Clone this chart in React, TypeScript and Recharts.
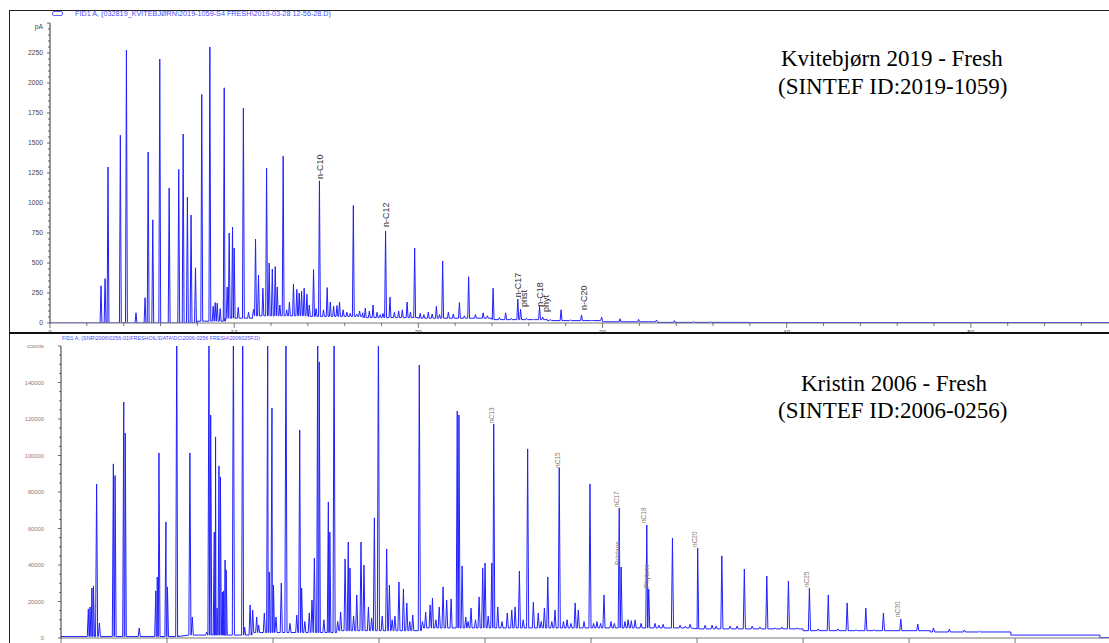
import React from "react";
import { LineChart, Line, XAxis, YAxis, ReferenceDot } from "recharts";

// Kvitebjørn 2019 - Fresh: retention time (min) and FID signal (pA) of each peak
const kvPeakTimes = [
  2.77, 2.99, 3.15, 3.82, 4.15, 4.67, 5.16, 5.33, 5.58, 5.96, 6.47, 6.99, 7.23, 7.46, 7.66, 7.9,
  8.24, 8.68, 8.86, 8.97, 9.08, 9.24, 9.46, 9.62, 9.73, 9.91, 10.0, 10.22, 10.5, 10.78, 11.05,
  11.16, 11.32, 11.56, 11.76, 11.9, 12.07, 12.23, 12.34, 12.48, 12.66, 12.85, 13.0, 13.22, 13.4,
  13.53, 13.66, 13.8, 13.95, 14.08, 14.31, 14.45, 14.63, 14.85, 15.05, 15.22, 15.4, 15.58, 15.72,
  15.92, 16.12, 16.3, 16.47, 16.65, 16.81, 16.98, 17.12, 17.34, 17.54, 17.76, 17.93, 18.08, 18.22,
  18.46, 18.7, 18.93, 19.13, 19.39, 19.57, 19.8, 20.1, 20.3, 20.54, 20.75, 20.98, 21.15, 21.32,
  21.63, 21.9, 22.23, 22.5, 22.73, 23.1, 23.52, 23.75, 24.06, 24.4, 24.74, 25.05, 25.4, 25.55,
  25.87, 26.25, 26.58, 26.75, 27.17, 27.75, 28.26, 28.86, 29.4, 29.95, 30.95, 31.96, 32.93, 33.9,
  34.95, 35.87,
];
const kvPeakHeights = [
  310, 370, 1300, 1565, 2275, 85, 210, 1425, 860, 2200, 1125, 1280, 1575, 1050, 900, 460,
  1905, 2300, 140, 170, 165, 120, 1960, 300, 750, 800, 625, 130, 1790, 90, 115,
  700, 400, 290, 1290, 500, 450, 470, 300, 150, 1390, 110, 175, 325, 280,
  250, 265, 290, 240, 150, 445, 120, 1185, 110, 295, 175, 140, 145, 175,
  110, 90, 80, 980, 75, 100, 85, 125, 100, 150, 90, 70, 80, 765,
  215, 90, 100, 110, 175, 90, 625, 80, 70, 90, 75, 140, 70, 517,
  90, 75, 170, 60, 385, 70, 85, 60, 290, 45, 85, 40, 200, 115,
  40, 30, 140, 50, 30, 110, 25, 67, 20, 50, 35, 30, 25, 20,
  12, 10,
];
const kvBaseTimes = [0, 8, 9.5, 11, 14, 17, 20, 24, 27, 30, 33, 38];
const kvBaseLevels = [0, 15, 40, 60, 55, 45, 40, 28, 20, 10, 5, 3];
const kvLabelNames = ["n-C10", "n-C12", "n-C17", "prist", "n-C18", "phyt", "n-C20"];
const kvLabelTimes = [14.63, 18.22, 25.4, 25.7, 26.58, 26.9, 28.97];
const kvLabelLevels = [1200, 800, 215, 133, 135, 92, 108];
const kvXTicks = [0, 2, 4, 6, 8, 10, 12, 14, 16, 18, 20, 22, 24, 26, 28, 30, 32, 34, 36, 38, 40, 42, 44, 46, 48, 50, 52, 54, 56];
const kvYLabels = [0, 250, 500, 750, 1000, 1250, 1500, 1750, 2000, 2250];

// Kristin 2006 - Fresh: retention time (min) and signal (counts); saturated peaks run off the top
const krPeakTimes = [
  1.29, 1.37, 1.46, 1.53, 1.68, 1.81, 2.47, 2.55, 2.96, 3.03, 3.69, 4.47, 4.54, 4.62, 4.95, 5.02,
  5.46, 6.08, 6.19, 6.87, 6.98, 7.06, 7.23, 7.29, 7.36, 7.45, 7.52, 7.61, 7.67, 7.74, 7.79, 8.13,
  8.57, 8.66, 8.92, 9.04, 9.23, 9.32, 9.59, 9.75, 9.82, 9.95, 10.02, 10.14, 10.39, 10.61, 10.8,
  11.12, 11.26, 11.35, 11.5, 11.71, 11.84, 11.95, 12.11, 12.18, 12.4, 12.61, 12.68, 12.88, 13.05,
  13.19, 13.4, 13.55, 13.63, 13.8, 13.95, 14.15, 14.29, 14.5, 14.65, 14.78, 14.97, 15.15, 15.36,
  15.49, 15.62, 15.75, 15.94, 16.15, 16.31, 16.45, 16.59, 16.9, 17.05, 17.2, 17.41, 17.52, 17.68,
  17.84, 18.02, 18.19, 18.4, 18.69, 18.77, 18.92, 19.09, 19.2, 19.34, 19.55, 19.72, 19.89, 20.0,
  20.15, 20.32, 20.41, 20.6, 20.8, 21.05, 21.26, 21.42, 21.62, 21.8, 22.01, 22.28, 22.51, 22.65,
  22.8, 22.96, 23.15, 23.3, 23.5, 23.7, 23.87, 24.05, 24.25, 24.4, 24.67, 24.95, 25.12, 25.28,
  25.45, 25.61, 25.94, 26.1, 26.33, 26.42, 26.6, 26.75, 26.9, 27.08, 27.36, 27.63, 27.72, 28.02,
  28.2, 28.4, 28.84, 29.2, 29.45, 29.67, 30.03, 30.38, 30.71, 30.9, 31.17, 31.56, 31.89, 32.23,
  32.6, 32.97, 33.29, 33.68, 34.0, 34.31, 34.72, 35.3, 35.71, 36.19, 36.65, 37.08, 37.5, 37.96,
  38.35, 38.79, 39.2, 39.61, 40.41, 41.15, 41.9, 42.61, 43.32,
];
const krPeakHeights = [
  15900, 17000, 27400, 28500, 84400, 8200, 95400, 89000, 129300, 112300, 5500, 25800, 33400, 101400, 63600, 28000,
  175000, 101400, 11500, 3300, 175000, 122200, 58000, 110200, 16400, 94300, 88300, 25200, 25800, 42700, 37300, 175000,
  175000, 6000, 18100, 15300, 11500, 7100, 13700, 175000, 36200, 126000, 29000, 11500, 30100, 175000, 8000,
  12600, 114000, 27400, 9000, 13700, 20800, 43800, 175000, 151300, 10000, 74500, 58000, 175000, 9000,
  14200, 43300, 52600, 38400, 12000, 23600, 52600, 40000, 17000, 11000, 65800, 175000, 12000, 48800,
  29000, 10000, 12000, 30700, 26900, 19200, 9000, 12600, 149600, 9000, 14200, 18100, 21900, 10000,
  17000, 28000, 20800, 21400, 124400, 122200, 39500, 11500, 9000, 16400, 10000, 22500, 38400, 41100,
  12000, 41100, 117300, 17000, 9000, 13700, 15300, 17000, 36700, 10000, 103600, 19700, 13700, 9000,
  16400, 33400, 9000, 15300, 93200, 9000, 10000, 8000, 19200, 15300, 9000, 84400, 8000, 9000,
  8000, 23600, 9000, 8000, 71200, 38900, 9000, 10000, 9500, 9900, 8000, 61900, 26900, 8000,
  7000, 7500, 54800, 7000, 6500, 7500, 49300, 7000, 7000, 6500, 45000, 6500, 6500, 37800,
  6500, 6000, 34000, 5500, 6000, 31200, 5500, 27400, 5000, 23600, 5000, 19200, 4500, 16400,
  4500, 13700, 4000, 10400, 7700, 5500, 4900, 4400, 3800,
];
const krBaseTimes = [0, 5.5, 9, 13, 17, 30, 35, 41, 44.8, 49];
const krBaseLevels = [800, 1600, 3000, 4000, 5500, 5000, 4000, 3300, 1600, 200];
const krLabelNames = ["nC13", "nC15", "nC17", "Pristane", "nC18", "Phytane", "nC20", "nC25", "nC30"];
const krLabelTimes = [20.33, 23.44, 26.23, 26.27, 27.5, 27.64, 29.9, 35.19, 39.48];
const krLabelLevels = [117800, 93200, 71800, 40000, 63000, 27400, 49900, 27900, 11500];
const krXTicks = [0, 5, 10, 15, 20, 25, 30, 35, 40, 45];
const krYLabels = [0, 20000, 40000, 60000, 80000, 100000, 120000, 140000];

const SANS = "'Liberation Sans', Arial, sans-serif";
const SERIF = "'Liberation Serif', 'Times New Roman', serif";
const TRACE = "#2020ff";

function buildTrace(times: number[], heights: number[], baseTimes: number[], baseLevels: number[], half: number, end: number) {
  const baseAt = (t: number) => {
    let level = baseLevels[0];
    baseTimes.forEach((bt, i) => {
      if (t >= bt) level = baseLevels[i];
    });
    return level;
  };
  const rows: { t: number; v: number }[] = [{ t: 0, v: baseAt(0) }, { t: end, v: baseAt(end) }];
  baseTimes.forEach((bt, i) => {
    if (i > 0) rows.push({ t: bt, v: baseLevels[i - 1] }, { t: bt + 0.001, v: baseLevels[i] });
  });
  times.forEach((t, i) => {
    const b = baseAt(t);
    rows.push({ t: t - half, v: b }, { t, v: Math.max(heights[i], b) }, { t: t + half, v: b });
  });
  return rows.sort((a, b) => a.t - b.t);
}

const kvTrace = buildTrace(kvPeakTimes, kvPeakHeights, kvBaseTimes, kvBaseLevels, 0.05, 57.5);
const krTrace = buildTrace(krPeakTimes, krPeakHeights, krBaseTimes, krBaseLevels, 0.05, 49.43);

// labelEvery = 0 draws tick marks only
const makeXTick = (labelEvery: number, majorEvery: number, majorLen: number, minorLen: number, size: number) => (p: any) => {
  const v = p.payload.value;
  const isMultiple = (n: number) => n > 0 && Math.abs(v / n - Math.round(v / n)) < 1e-6;
  const len = isMultiple(majorEvery) ? majorLen : minorLen;
  return (
    <g>
      <line x1={p.x} x2={p.x} y1={p.y} y2={p.y + len} stroke="#555" strokeWidth={0.8} />
      {isMultiple(labelEvery) && (
        <text x={p.x} y={p.y + majorLen + size} textAnchor="middle" fontSize={size} fill="#555" style={{ fontFamily: SANS }}>
          {v}
        </text>
      )}
    </g>
  );
};

const makeYTick = (labels: number[], top: number, unit: string, size: number, color: string, labelRight: number, unitDy: number, minorLen: number, majorLen: number) => (p: any) => {
  const v = p.payload.value;
  const isTop = Math.abs(v - top) < 1e-6;
  const major = labels.includes(v) || isTop;
  const len = major ? majorLen : minorLen;
  return (
    <g>
      <line x1={p.x - len} x2={p.x} y1={p.y} y2={p.y} stroke="#444" strokeWidth={0.8} />
      {major && (
        <text x={labelRight} y={p.y + size * 0.35 + (isTop ? unitDy : 0)} textAnchor="end" fontSize={size} fill={color} style={{ fontFamily: SANS }}>
          {isTop ? unit : v}
        </text>
      )}
    </g>
  );
};

const peakLabel = (text: string, size: number, color: string) => (p: any) => {
  const x = p.cx + size * 0.36;
  return (
    <text x={x} y={p.cy} transform={`rotate(-90 ${x} ${p.cy})`} fontSize={size} fill={color} style={{ fontFamily: SANS }}>
      {text}
    </text>
  );
};

const kvYTicks = Array.from({ length: 51 }, (_, i) => i * 50);
const krYTicks = Array.from({ length: 33 }, (_, i) => i * 5000);

export default function App() {
  return (
    <div style={{ position: "absolute", left: 0, top: 0, width: 1109, height: 643, overflow: "hidden", background: "#fff" }}>
      <div style={{ position: "absolute", left: 0, top: 0 }}>
        <LineChart width={1109} height={345} data={kvTrace} margin={{ top: 23, right: 0, bottom: 0, left: 10 }}>
          <XAxis
            type="number"
            dataKey="t"
            domain={[0, 57.5]}
            allowDataOverflow
            ticks={kvXTicks}
            interval={0}
            height={22}
            tickSize={0}
            tickMargin={0}
            tickLine={false}
            tick={makeXTick(10, 10, 5, 3, 6.5)}
            axisLine={{ stroke: "#777" }}
          />
          <YAxis
            type="number"
            domain={[0, 2500]}
            allowDataOverflow
            ticks={kvYTicks}
            interval={0}
            width={40}
            tickSize={0}
            tickMargin={0}
            tickLine={false}
            tick={makeYTick(kvYLabels, 2500, "pA", 6.7, "#444", 43, 4, 2, 3)}
            axisLine={{ stroke: "#333" }}
          />
          <Line type="linear" dataKey="v" stroke={TRACE} strokeWidth={1} dot={false} isAnimationActive={false} />
          {kvLabelNames.map((name, i) => (
            <ReferenceDot key={name} x={kvLabelTimes[i]} y={kvLabelLevels[i]} r={1} shape={peakLabel(name, 9, "#333")} />
          ))}
        </LineChart>
      </div>

      <div style={{ position: "absolute", left: 0, top: 333, width: 1109, height: 310, background: "#fff" }} />

      <div style={{ position: "absolute", left: 0, top: 333 }}>
        <LineChart width={1109} height={327} data={krTrace} margin={{ top: 13, right: 0, bottom: 0, left: 10 }}>
          <XAxis
            type="number"
            dataKey="t"
            domain={[0, 49.43]}
            allowDataOverflow
            ticks={krXTicks}
            interval={0}
            height={22}
            tickSize={0}
            tickMargin={0}
            tickLine={false}
            tick={makeXTick(0, 5, 5, 5, 6)}
            axisLine={{ stroke: "#777" }}
          />
          <YAxis
            type="number"
            domain={[0, 160000]}
            allowDataOverflow
            ticks={krYTicks}
            interval={0}
            width={51}
            tickSize={0}
            tickMargin={0}
            tickLine={false}
            tick={makeYTick(krYLabels, 160000, "counts", 5.8, "#9a7a6a", 44, 0, 2, 3)}
            axisLine={{ stroke: "#333" }}
          />
          <Line type="linear" dataKey="v" stroke={TRACE} strokeWidth={1} dot={false} isAnimationActive={false} />
          {krLabelNames.map((name, i) => (
            <ReferenceDot key={name} x={krLabelTimes[i]} y={krLabelLevels[i]} r={1} shape={peakLabel(name, 6.5, "#8a7a70")} />
          ))}
        </LineChart>
      </div>

      <svg width={1109} height={643} style={{ position: "absolute", left: 0, top: 0, pointerEvents: "none" }}>
        <line x1={9} x2={1109} y1={10.5} y2={10.5} stroke="#222" strokeWidth={1} />
        <line x1={9.5} x2={9.5} y1={10} y2={643} stroke="#222" strokeWidth={1} />
        <line x1={9} x2={1109} y1={333} y2={333} stroke="#111" strokeWidth={2} />
        <rect x={52.5} y={11.5} width={10} height={4} rx={1.5} fill="none" stroke="#3a3aff" strokeWidth={0.8} />
        <text x={75} y={16} fontSize={6.5} fill="#4a4aff" style={{ fontFamily: SANS }} textLength={256} lengthAdjust="spacingAndGlyphs">
          {"FID1 A, (032819_KVITEBJØRN\\2019-1059-S4 FRESH\\2019-03-28 12-56-28.D)"}
        </text>
        <text x={62} y={340} fontSize={6} fill="#4a4aff" style={{ fontFamily: SANS }} textLength={198} lengthAdjust="spacingAndGlyphs">
          {"FID1 A, (SNR\\2006\\0256-01\\FRESHOIL\\DATA\\DC\\2006-0256 FRESH\\2006025F.D)"}
        </text>
        <g fontSize={23} fill="#000" style={{ fontFamily: SERIF }}>
          <text x={781} y={66}>Kvitebjørn 2019 - Fresh</text>
          <text x={778} y={94}>(SINTEF ID:2019-1059)</text>
          <text x={801} y={391}>Kristin 2006 - Fresh</text>
          <text x={778} y={418}>(SINTEF ID:2006-0256)</text>
        </g>
      </svg>
    </div>
  );
}
